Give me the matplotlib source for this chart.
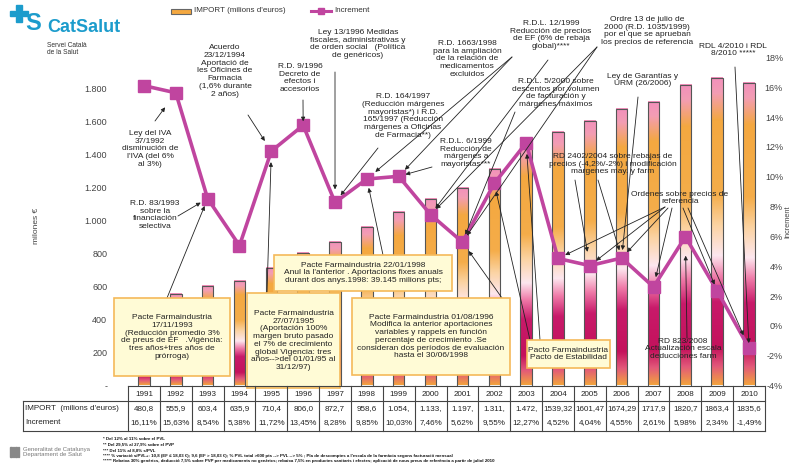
"""
Evolució de la despesa farmacèutica (CatSalut) 1991-2010
IMPORT (barres) + Increment (línia) amb anotacions normatives
"""
import numpy as np
import matplotlib
matplotlib.use("Agg")
import matplotlib.pyplot as plt
from matplotlib import transforms
from matplotlib.colors import LinearSegmentedColormap
from matplotlib.patches import Rectangle

plt.rcParams["font.family"] = ["Liberation Sans", "DejaVu Sans"]

# 1. dades
years = ["1991", "1992", "1993", "1994", "1995", "1996", "1997", "1998", "1999", "2000",
         "2001", "2002", "2003", "2004", "2005", "2006", "2007", "2008", "2009", "2010"]
imports = [480.8, 555.9, 603.4, 635.9, 710.4, 806.0, 872.7, 958.6, 1054, 1133,
           1197, 1311, 1472, 1539.32, 1601.47, 1674.29, 1717.9, 1820.7, 1863.4, 1835.6]
increments = [16.11, 15.63, 8.54, 5.38, 11.72, 13.45, 8.28, 9.85, 10.03, 7.46,
              5.62, 9.55, 12.27, 4.52, 4.04, 4.55, 2.61, 5.98, 2.34, -1.49]
import_labels = ["480,8", "555,9", "603,4", "635,9", "710,4", "806,0", "872,7", "958,6", "1.054,",
                 "1.133,", "1.197,", "1.311,", "1.472,", "1539,32", "1601,47", "1674,29",
                 "1717,9", "1820,7", "1863,4", "1835,6"]
increment_labels = ["16,11%", "15,63%", "8,54%", "5,38%", "11,72%", "13,45%", "8,28%", "9,85%",
                    "10,03%", "7,46%", "5,62%", "9,55%", "12,27%", "4,52%", "4,04%", "4,55%",
                    "2,61%", "5,98%", "2,34%", "-1,49%"]
left_ticks = [0, 200, 400, 600, 800, 1000, 1200, 1400, 1600, 1800]
left_tick_labels = ["-", "200", "400", "600", "800", "1.000", "1.200", "1.400", "1.600", "1.800"]
right_ticks = [-4, -2, 0, 2, 4, 6, 8, 10, 12, 14, 16, 18]
right_tick_labels = ["-4%", "-2%", "0%", "2%", "4%", "6%", "8%", "10%", "12%", "14%", "16%", "18%"]

# 2. figura (coordenades en píxels de la imatge 791x466)
W, H = 791, 466
fig = plt.figure(figsize=(W / 100, H / 100), dpi=100)
AX_L, AX_R, AX_B, AX_T = 128, 765, 385.5, 25

ax = fig.add_axes([AX_L / W, 1 - AX_B / H, (AX_R - AX_L) / W, (AX_B - AX_T) / H])
ax2 = ax.twinx()
ax.set_zorder(1)
ax2.set_zorder(2)
ax2.patch.set_visible(False)

ov = fig.add_axes([0, 0, 1, 1], zorder=5)
ov.set_xlim(0, W)
ov.set_ylim(H, 0)
ov.axis("off")

n = len(years)
x = np.arange(n)
ax.set_xlim(-0.5, n - 0.5)
ax.set_ylim(0, (AX_B - AX_T) / 0.165)
ax2.set_ylim(-4, -4 + (AX_B - AX_T) / 14.91)

# barres amb degradat
stops = [(0.0, "#f2a23e"), (0.06, "#e2587a"), (0.12, "#c4125c"), (0.27, "#c81a6a"),
         (0.35, "#ef7aa8"), (0.42, "#fde7ef"), (0.52, "#fbd3a2"), (0.62, "#f5ad4a"),
         (0.86, "#f4a840"), (0.95, "#f39db4"), (1.0, "#f290bc")]
cmap = LinearSegmentedColormap.from_list("bar", stops)
grad = np.linspace(0, 1, 256).reshape(-1, 1)
bw = 0.36
for xi, v in zip(x, imports):
    ax.imshow(grad, cmap=cmap, origin="lower", aspect="auto",
              extent=(xi - bw / 2, xi + bw / 2, 0, v), zorder=1)
ax.bar(x, imports, width=bw, fill=False, edgecolor="#555555", lw=0.8, zorder=2)
ax.set_xlim(-0.5, n - 0.5)
ax.set_ylim(0, (AX_B - AX_T) / 0.165)

# línia Increment
ax2.plot(x, increments, color="#c0459f", lw=2.6, marker="s", ms=8.5,
         mfc="#c0459f", mec="#c0459f", zorder=3)

# eixos
for a in (ax, ax2):
    for s in a.spines.values():
        s.set_visible(False)
    a.set_xticks([])
ax.set_yticks(left_ticks)
ax.set_yticklabels(left_tick_labels, fontsize=6.5, color="#444444")
ax.tick_params(axis="y", length=0, pad=15)
ax2.set_yticks(right_ticks)
ax2.set_yticklabels(right_tick_labels, fontsize=6.5, color="#444444")
ax2.tick_params(axis="y", length=0, pad=13)
for lab in ax2.get_yticklabels():
    lab.set_ha("right")

ov.text(37, 226, "milones €", rotation=90, fontsize=6, color="#444444", ha="center", va="center")
ov.text(791, 222, "Increment", rotation=90, fontsize=5.3, color="#444444", ha="right", va="center")

# llegenda
ov.add_patch(Rectangle((171, 8.5), 20, 5, facecolor="#f4a840", edgecolor="#666666", lw=0.8))
ov.text(194, 11, "IMPORT (milions d'euros)", fontsize=5.8, color="#333333", va="center")
ov.plot([311, 331], [11, 11], color="#c0459f", lw=2.2)
ov.plot([321], [11], marker="s", ms=4, color="#c0459f")
ov.text(334, 11, "Increment", fontsize=5.8, color="#333333", va="center")

# logo CatSalut
for rx, ry, rw, rh in [(16, 5, 6, 5), (10, 11, 18, 5), (16, 17, 6, 5)]:
    ov.add_patch(Rectangle((rx, ry), rw, rh, color="#1c9ccc"))
ov.text(33, 24, "S", fontsize=17, fontweight="bold", color="#1c9ccc", ha="center", va="center")
ov.text(47, 27, "CatSalut", fontsize=13, fontweight="bold", color="#1c9ccc", va="center")
ov.text(47, 49, "Servei Català\nde la Salut", fontsize=4.8, color="#333333", va="center",
        linespacing=1.1)

# anotacions
notes = [
    (150, 149, "Ley del IVA\n37/1992\ndisminución de\nl'IVA (del 6%\nal 3%)"),
    (155, 215, "R.D. 83/1993\nsobre la\nfinanciación\nselectiva"),
    (225, 71, "Acuerdo\n23/12/1994\nAportació de\nles Oficines de\nFarmacia\n(1,6% durante\n2 años)"),
    (300, 78, "R.D. 9/1996\nDecreto de\nefectos i\naccesorios"),
    (358, 44, "Ley 13/1996 Medidas\nfiscales, administrativas y\nde orden social   (Política\nde genéricos)"),
    (403, 116, "R.D. 164/1997\n(Reducción márgenes\nmayoristas*) i R.D.\n165/1997 (Reducción\nmárgenes a Oficinas\nde Farmacia**)"),
    (467, 59, "R.D. 1663/1998\npara la ampliación\nde la relación de\nmedicamentos\nexcluidos"),
    (551, 35, "R.D.L. 12/1999\nReducción de precios\nde EF (6% de rebaja\nglobal)****"),
    (556, 93, "R.D.L. 5/2000 sobre\ndescentos por volumen\nde facturación y\nmárgenes máximos"),
    (466, 153, "R.D.L. 6/1999\nReducción de\nmárgenes a\nmayoristas***"),
    (647, 31, "Ordre 13 de julio de\n2000 (R.D. 1035/1999)\npor el que se aprueban\nlos precios de referencia"),
    (643, 80, "Ley de Garantías y\nURM (26/2006)"),
    (733, 50, "RDL 4/2010 i RDL\n8/2010 *****"),
    (613, 164, "RD 2402/2004 sobre rebajas de\nprecios (-4,2%/-2%) i modificación\nmargenes may. y farm"),
    (680, 198, "Ordenes sobre precios de\nreferencia"),
    (683, 349, "RD 823/2008\nActualización escala\ndeducciones farm"),
]
for tx, ty, t in notes:
    ov.text(tx, ty, t, fontsize=6, color="#222222", ha="center", va="center", linespacing=1.15)

boxes = [
    ((114, 298, 230, 376), "Pacte Farmaindustria\n17/11/1993\n(Reducción promedio 3%\nde preus de EF   .Vigència:\ntres años+tres años de\nprórroga)"),
    ((247, 293, 340, 388), "Pacte Farmaindustria\n27/07/1995\n(Aportación 100%\nmargen bruto pasado\nel 7% de crecimiento\nglobal Vigencia: tres\naños-->del 01/01/95 al\n31/12/97)"),
    ((274, 255, 452, 291), "Pacte Farmaindustria 22/01/1998\nAnul la l'anterior . Aportacions fixes anuals\ndurant dos anys.1998: 39.145 milions pts;"),
    ((352, 298, 510, 375), "Pacte Farmaindustria 01/08/1996\nModifica la anterior aportaciones\nvariables y rappels en función\npercentaje de crecimiento .Se\nconsideran dos períodos de evaluación\nhasta el 30/06/1998"),
    ((527, 340, 610, 368), "Pacto Farmaindustria\nPacto de Estabilidad"),
]
for (x0, y0, x1, y1), t in boxes:
    ov.add_patch(Rectangle((x0, y0), x1 - x0, y1 - y0, facecolor="#fffbd6",
                           edgecolor="#f5b95a", lw=1.2))
    ov.text((x0 + x1) / 2, (y0 + y1) / 2, t, fontsize=6, color="#222222",
            ha="center", va="center", linespacing=1.15)

# fletxes: (origen en píxels, índex de l'any, escurçament en px)
arrows = [
    ((155, 121), 1, 18), ((178, 216), 2, 8), ((167, 298), 2, 8), ((248, 115), 4, 12),
    ((303, 100), 5, 4), ((267, 292), 4, 11), ((335, 72), 6, 13), ((378, 148), 6, 9),
    ((383, 255), 7, 9), ((512, 57), 7, 11), ((512, 57), 8, 9), ((432, 167), 8, 7),
    ((548, 60), 9, 8), ((597, 47), 9, 8), ((597, 47), 10, 8), ((515, 112), 10, 8),
    ((502, 298), 10, 11), ((530, 340), 11, 8), ((540, 340), 12, 11), ((575, 180), 14, 14),
    ((598, 180), 15, 8), ((638, 97), 15, 8), ((665, 207), 13, 8), ((665, 207), 14, 8),
    ((668, 208), 15, 8), ((672, 208), 16, 10), ((683, 208), 18, 7), ((688, 208), 19, 14),
    ((735, 67), 19, 5), ((687, 338), 17, 19),
]
for (px, py), i, sh in arrows:
    ax2.annotate("", xy=(x[i], increments[i]), xycoords="data",
                 xytext=(px, py), textcoords=ov.transData, annotation_clip=False,
                 arrowprops=dict(arrowstyle="-|>", color="#222222", lw=0.6,
                                 mutation_scale=6, shrinkA=0, shrinkB=sh * 0.72))

# taula
blend = transforms.blended_transform_factory(ax.transData, ov.transData)
t_top, t_mid, t_bot = 385.5, 401, 431
lc = "#444444"
ov.plot([-0.5, n - 0.5], [t_top, t_top], transform=blend, color=lc, lw=0.8, clip_on=False)
ov.plot([23, AX_R], [t_mid, t_mid], color=lc, lw=0.8)
ov.plot([23, AX_R], [t_bot, t_bot], color=lc, lw=0.8)
ov.plot([23, 23], [t_mid, t_bot], color=lc, lw=0.8)
for k in range(n + 1):
    ov.plot([k - 0.5, k - 0.5], [t_top, t_bot], transform=blend, color=lc, lw=0.8, clip_on=False)
for xi, yr, il, cl in zip(x, years, import_labels, increment_labels):
    ov.text(xi, 394, yr, transform=blend, fontsize=5.8, color="#222222", ha="center", va="center")
    ov.text(xi, 409, il, transform=blend, fontsize=5.8, color="#222222", ha="center", va="center")
    ov.text(xi, 423, cl, transform=blend, fontsize=5.8, color="#222222", ha="center", va="center")
ov.text(25, 409, "IMPORT  (milions d'euros)", fontsize=5.8, color="#222222", va="center")
ov.text(25, 423, "Increment", fontsize=5.8, color="#222222", va="center")

# peu
for k in range(4):
    ov.add_patch(Rectangle((10 + k * 2.6, 447), 1.6, 10, color="#888888"))
ov.text(23, 452, "Generalitat de Catalunya\nDepartament de Salut", fontsize=4.3,
        color="#777777", va="center", linespacing=1.1)
footnotes = [
    "* Del 12% al 11% sobre el PVL",
    "** Del 29,5% al 27,9% sobre el PVP",
    "*** Del 11% al 8,8% s/PVL",
    "**** % variació s/PVL+: 10,8 (EF ≤ 18,03 €); 9,6 (EF > 18,03 €); % PVL total >600 pts --> PVL --> 5% ; Pla de descomptes a l'escala de la farmàcia segons facturació mensual",
    "***** Rebaixa 30% genèrics, deducció 7,5% sobre PVP per medicaments no genèrics; rebaixa 7,5% en productes sanitaris i efectes; aplicació de nous preus de referència a partir de juliol 2010",
]
for k, t in enumerate(footnotes):
    ov.text(103, 439 + k * 5.5, t, fontsize=3.2, fontweight="bold", color="#111111", va="center")

fig.savefig("out.png", dpi=100)
